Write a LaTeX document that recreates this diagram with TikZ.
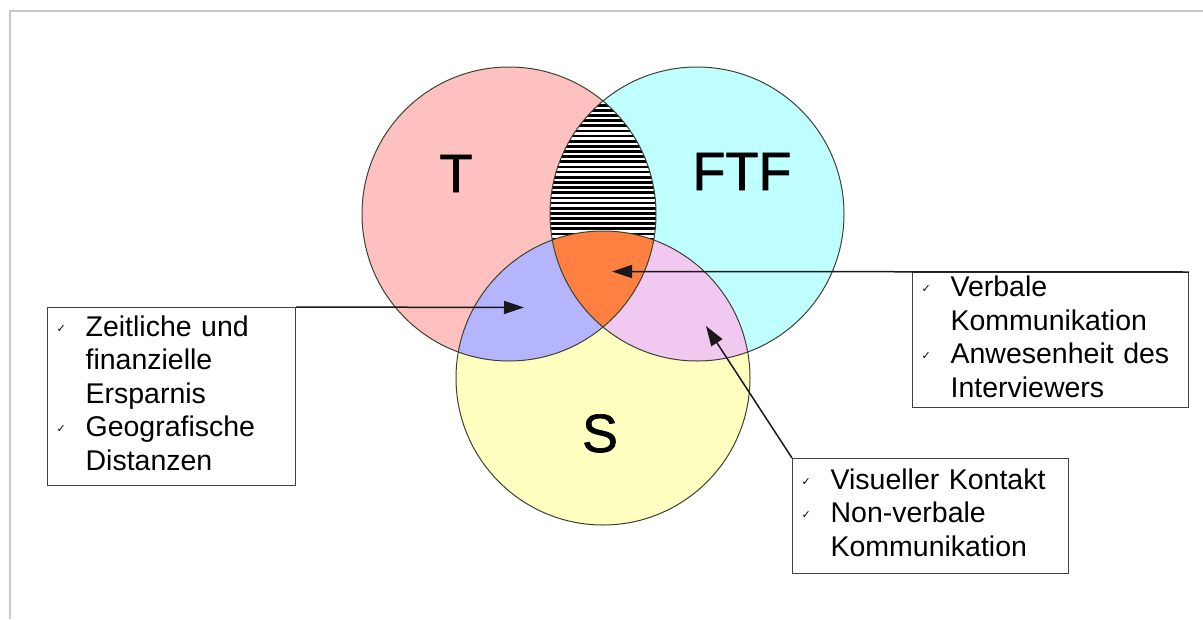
\documentclass[tikz,border=0pt]{standalone}
\usepackage{fontspec}
\setmainfont{Liberation Sans}
\newfontfamily\dejavu{DejaVu Sans}
\newfontfamily\biglabel[FakeBold=1.2]{Liberation Sans}
\usetikzlibrary{arrows.meta}
\definecolor{cT}{RGB}{255,192,192}
\definecolor{cF}{RGB}{192,255,255}
\definecolor{cS}{RGB}{255,255,192}
\definecolor{cTS}{RGB}{180,180,255}
\definecolor{cFS}{RGB}{240,200,240}
\definecolor{cAll}{RGB}{255,128,64}
\definecolor{cLine}{RGB}{60,66,50}
\definecolor{cFrame}{RGB}{200,200,200}
\newcommand\ck{\makebox[30pt][l]{\hspace{1pt}\raisebox{4pt}{\dejavu\fontsize{11}{11}\selectfont ✓}}}
\newcommand\ind{\hspace*{30pt}}
\tikzset{
  boxst/.style={draw=black!75, line width=1.2pt, fill=white, align=left,
    inner xsep=8pt, inner ysep=0pt, anchor=north west,
    font=\fontsize{28.5}{33.5}\selectfont},
  bigl/.style={font=\biglabel\fontsize{54}{60}\selectfont, anchor=base, inner sep=0pt},
  arr/.style={draw=black!90, line width=1.5pt, -{Triangle[length=20pt,width=13pt]}},
  ring/.style={draw=cLine, line width=1pt}
}
\begin{document}
\begin{tikzpicture}[x=1pt,y=-1pt]
\useasboundingbox (0,0) rectangle (1203,619);
\fill[white] (0,0) rectangle (1203,619);
% frame
\draw[cFrame, line width=2pt] (10,619) -- (10,11) -- (1203,11);
% circle fills
\fill[cT] (509,214) circle[radius=147pt];
\fill[cF] (697,214) circle[radius=147pt];
\fill[cS] (603,378) circle[radius=147pt];
\begin{scope}
  \clip (509,214) circle[radius=147pt];
  \fill[cTS] (603,378) circle[radius=147pt];
\end{scope}
\begin{scope}
  \clip (697,214) circle[radius=147pt];
  \fill[cFS] (603,378) circle[radius=147pt];
\end{scope}
\begin{scope}
  \clip (509,214) circle[radius=147pt];
  \clip (697,214) circle[radius=147pt];
  \fill[white] (697,214) circle[radius=147pt];
  \foreach \yy in {100,105.15,...,335} \draw[black, line width=2.7pt] (540,\yy) -- (670,\yy);
  \fill[cAll] (603,378) circle[radius=147pt];
\end{scope}
\draw[ring] (509,214) circle[radius=147pt];
\draw[ring] (697,214) circle[radius=147pt];
\draw[ring] (603,378) circle[radius=147pt];
% big labels
\node[bigl] (lT) at (456,192) {T};
\node[bigl] (lF) at (742,190) {FTF};
\node[bigl] (lS) at (600,452) {S};
% boxes
\node[boxst, text width=232pt, minimum height=178pt] (bL) at (47,307)
  {\strut\ck Zeitliche und\\\strut\ind finanzielle\\\strut\ind Ersparnis\\\strut\ck Geografische\\\strut\ind Distanzen};
\node[boxst, text width=260pt, minimum height=135pt] (bR) at (912,272)
  {\strut\ck Verbale\\\strut\ind Kommunikation\\\strut\ck Anwesenheit des\\\strut\ind Interviewers};
\node[boxst, text width=260pt, minimum height=115pt] (bB) at (792,458)
  {\strut\ck Visueller Kontakt\\\strut\ck Non-verbale\\\strut\ind Kommunikation};
% arrow tips
\coordinate (tL) at (524,307.5);
\coordinate (tR) at (612,271.5);
\coordinate (tB) at (706,326);
\draw[arr] (bL.north east) -- (tL);
\draw[arr] (bR.north east) -- (tR);
\draw[arr] (bB.north west) -- (tB);
\end{tikzpicture}
\end{document}
